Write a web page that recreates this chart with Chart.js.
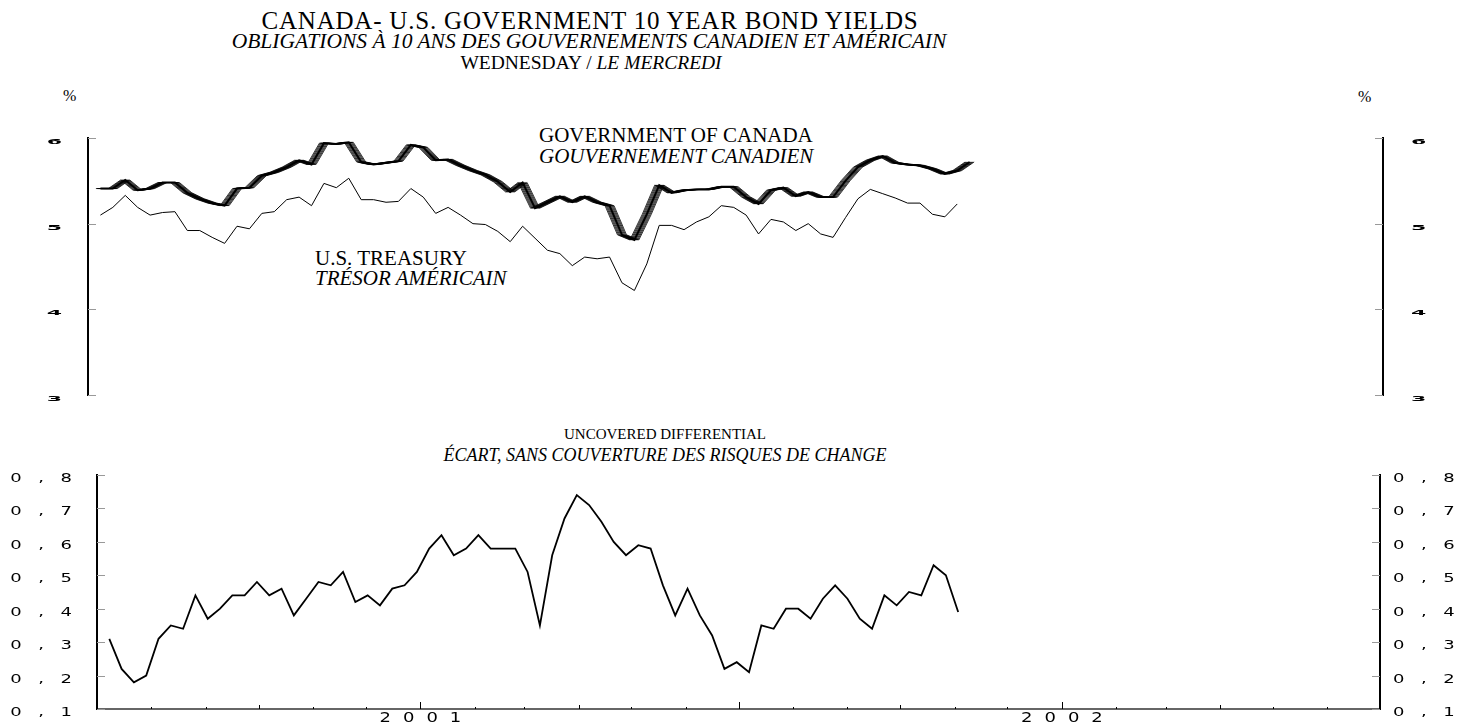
<!DOCTYPE html>
<html>
<head>
<meta charset="utf-8">
<script src="https://cdn.jsdelivr.net/npm/chart.js@4"></script>
<style>
  body { margin: 0; background: #fff; }
  #page { position: relative; width: 1481px; height: 725px; overflow: hidden; color: #000;
          font-family: "Liberation Serif", "Times New Roman", serif; }
  .t { position: absolute; white-space: nowrap; font-size: 21px; line-height: 21px; }
  .c { transform: translateX(-50%); }
  .i { font-style: italic; }
  canvas { position: absolute; left: 0; }
</style>
</head>
<body>
<div id="page">
  <div class="t c" style="left:590px;top:8px;font-size:25px;line-height:25px;letter-spacing:0.8px">CANADA- U.S. GOVERNMENT 10 YEAR BOND YIELDS</div>
  <div class="t c i" style="left:589px;top:31px;font-size:21.5px">OBLIGATIONS À 10 ANS DES GOUVERNEMENTS CANADIEN ET AMÉRICAIN</div>
  <div class="t c" style="left:591px;top:52px;font-size:19.5px">WEDNESDAY / <i>LE MERCREDI</i></div>
  <div class="t" style="left:63px;top:85px;font-size:16px">%</div>
  <div class="t" style="left:1358px;top:86px;font-size:16px">%</div>

  <div class="t" style="left:539px;top:125px">GOVERNMENT OF CANADA</div>
  <div class="t i" style="left:539px;top:146px">GOUVERNEMENT CANADIEN</div>
  <div class="t" style="left:315px;top:248px">U.S. TREASURY</div>
  <div class="t i" style="left:315px;top:268px">TRÉSOR AMÉRICAIN</div>

  <div class="t c" style="left:665px;top:426px;font-size:15px;line-height:16px">UNCOVERED DIFFERENTIAL</div>
  <div class="t c i" style="left:665px;top:446px;font-size:18px;line-height:18px">ÉCART, SANS COUVERTURE DES RISQUES DE CHANGE</div>

  <canvas id="yields" width="1481" height="297" style="top:108px"></canvas>
  <canvas id="spread" width="1481" height="270" style="top:455px"></canvas>
</div>

<script>
// weekly (Wednesday) observations, July 2000 - October 2001
const usTreasury = [5.10, 5.19, 5.33, 5.19, 5.10, 5.13, 5.14, 4.92, 4.92, 4.84,
  4.77, 4.97, 4.94, 5.12, 5.14, 5.28, 5.31, 5.21, 5.47, 5.42,
  5.53, 5.28, 5.28, 5.25, 5.26, 5.41, 5.31, 5.12, 5.19, 5.10,
  5.00, 4.99, 4.91, 4.79, 4.97, 4.83, 4.69, 4.65, 4.51, 4.61,
  4.59, 4.61, 4.31, 4.22, 4.53, 4.98, 4.98, 4.93, 5.02, 5.08,
  5.21, 5.19, 5.10, 4.88, 5.05, 5.02, 4.92, 5.00, 4.88, 4.84,
  5.07, 5.29, 5.40, 5.35, 5.30, 5.24, 5.24, 5.11, 5.08, 5.23];

const canada = [5.41, 5.41, 5.51, 5.39, 5.41, 5.48, 5.48, 5.36, 5.29, 5.24,
  5.21, 5.41, 5.42, 5.56, 5.60, 5.66, 5.74, 5.69, 5.94, 5.93,
  5.95, 5.72, 5.69, 5.71, 5.73, 5.92, 5.89, 5.74, 5.75, 5.68,
  5.62, 5.57, 5.49, 5.37, 5.48, 5.18, 5.25, 5.32, 5.25, 5.32,
  5.25, 5.21, 4.87, 4.81, 5.11, 5.45, 5.36, 5.39, 5.40, 5.40,
  5.43, 5.43, 5.31, 5.23, 5.39, 5.42, 5.32, 5.37, 5.31, 5.31,
  5.50, 5.66, 5.74, 5.79, 5.71, 5.69, 5.68, 5.64, 5.58, 5.62,
  5.72];

const differential = [0.31, 0.22, 0.18, 0.20, 0.31, 0.35, 0.34, 0.44, 0.37, 0.40,
  0.44, 0.44, 0.48, 0.44, 0.46, 0.38, 0.43, 0.48, 0.47, 0.51,
  0.42, 0.44, 0.41, 0.46, 0.47, 0.51, 0.58, 0.62, 0.56, 0.58,
  0.62, 0.58, 0.58, 0.58, 0.51, 0.35, 0.56, 0.67, 0.74, 0.71,
  0.66, 0.60, 0.56, 0.59, 0.58, 0.47, 0.38, 0.46, 0.38, 0.32,
  0.22, 0.24, 0.21, 0.35, 0.34, 0.40, 0.40, 0.37, 0.43, 0.47,
  0.43, 0.37, 0.34, 0.44, 0.41, 0.45, 0.44, 0.53, 0.50, 0.39];

const yieldTicks = [3, 4, 5, 6];
const spreadTicks = [0.1, 0.2, 0.3, 0.4, 0.5, 0.6, 0.7, 0.8];
const yearLabels = ['2001', '2002'];

// x axis runs in days from 1 July 2000 to 1 July 2002
const DAY = 86400000;
const axisStart = Date.UTC(2000, 6, 1);
const axisDays = (Date.UTC(2002, 6, 1) - axisStart) / DAY;
const firstObsDay = 7;   // first weekly point as plotted
const weekStep = 7;

const toPoints = arr => arr.map((v, i) => ({ x: firstObsDay + i * weekStep, y: v }));

// month boundaries for the tick marks on the bottom axis
const monthStarts = [];
for (let m = 0; m <= 24; m++) {
  monthStarts.push({ day: (Date.UTC(2000, 6 + m, 1) - axisStart) / DAY, month: (6 + m) % 12 });
}

// the axis numbers are wide and flat, so draw them stretched
function wideText(ctx, text, x, y, align, st) {
  ctx.save();
  ctx.font = (st.weight || 'normal') + ' ' + st.size + 'px "DejaVu Sans"';
  ctx.fillStyle = '#000';
  ctx.textBaseline = 'middle';
  ctx.textAlign = 'left';
  const w = (ctx.measureText(text).width + st.spacing * (text.length - 1)) * st.sx;
  const x0 = align === 'right' ? x - w : align === 'center' ? x - w / 2 : x;
  ctx.letterSpacing = st.spacing + 'px';
  ctx.translate(x0, y);
  ctx.scale(st.sx, st.sy);
  ctx.fillText(text, 0, 0);
  ctx.restore();
}

function axisMarks(cfg) {
  return {
    id: 'axisMarks',
    afterDraw(chart) {
      const ctx = chart.ctx, a = chart.chartArea;
      ctx.save();
      ctx.lineWidth = 1;
      ['y', 'y2'].forEach(id => {
        const s = chart.scales[id];
        const left = s.position === 'left';
        const edge = left ? a.left : a.right;
        s.ticks.forEach(t => {
          const py = Math.round(s.getPixelForValue(t.value)) + 0.5;
          ctx.strokeStyle = '#999';
          ctx.beginPath();
          ctx.moveTo(edge, py);
          ctx.lineTo(edge + (left ? cfg.tickLen : -cfg.tickLen), py);
          ctx.stroke();
          wideText(ctx, cfg.format(t.value), left ? edge - cfg.gapLeft : edge + cfg.gapRight,
                   py + cfg.labelDy, left ? 'right' : 'left', cfg.label);
        });
      });
      if (cfg.months) {
        const s = chart.scales.x;
        ctx.strokeStyle = '#000';
        monthStarts.forEach(m => {
          if (m.day <= 0 || m.day >= axisDays) return;
          const px = Math.round(s.getPixelForValue(m.day)) + 0.5;
          const len = m.month % 6 === 0 ? 7 : m.month % 3 === 0 ? 4 : 2;
          ctx.beginPath();
          ctx.moveTo(px, a.bottom);
          ctx.lineTo(px, a.bottom - len);
          ctx.stroke();
        });
        yearLabels.forEach(y => {
          const day = (Date.UTC(+y, 0, 1) - axisStart) / DAY;
          wideText(ctx, y, s.getPixelForValue(day), a.bottom + 10, 'center', cfg.yearLabel);
        });
      }
      ctx.restore();
    }
  };
}

// Canada's line is drawn as a hatched ribbon
const ribbon = {
  id: 'ribbon',
  afterDatasetsDraw(chart) {
    const pts = chart.getDatasetMeta(0).data;
    const ctx = chart.ctx;
    ctx.save();
    ctx.strokeStyle = '#000';
    ctx.lineWidth = 0.8;
    for (let dx = -4.5; dx <= 4.51; dx += 1.0) {
      ctx.beginPath();
      pts.forEach((p, i) => i ? ctx.lineTo(p.x + dx, p.y) : ctx.moveTo(p.x + dx, p.y));
      ctx.stroke();
    }
    ctx.restore();
  }
};

function yAxis(pos, width, min, max, ticks) {
  return {
    position: pos, min: min, max: max,
    afterBuildTicks: s => { s.ticks = ticks.map(v => ({ value: v })); },
    afterFit: s => { s.width = width; },
    ticks: { display: false },
    grid: { display: false },
    border: { display: true, color: '#000', width: 2 }
  };
}

const common = {
  responsive: false,
  animation: false,
  devicePixelRatio: 1,
  plugins: { legend: { display: false }, tooltip: { enabled: false } },
  elements: { point: { radius: 0 }, line: { tension: 0 } }
};

new Chart(document.getElementById('yields'), {
  type: 'line',
  data: {
    datasets: [
      { label: 'Government of Canada', data: toPoints(canada), borderColor: '#000', borderWidth: 2 },
      { label: 'U.S. Treasury', data: toPoints(usTreasury), borderColor: '#000', borderWidth: 1 }
    ]
  },
  options: Object.assign({}, common, {
    layout: { padding: { top: 30, bottom: 10 } },
    scales: {
      x: { type: 'linear', min: 0, max: axisDays, display: false },
      y: yAxis('left', 88, 3, 6, yieldTicks),
      y2: yAxis('right', 98, 3, 6, yieldTicks)
    }
  }),
  plugins: [ribbon, axisMarks({
    tickLen: 8, gapLeft: 26, gapRight: 28, labelDy: 4,
    format: v => String(v),
    label: { size: 10, spacing: 0, sx: 2.2, sy: 0.75, weight: 'bold' }
  })]
});

new Chart(document.getElementById('spread'), {
  type: 'line',
  data: {
    datasets: [
      { label: 'Uncovered differential', data: toPoints(differential), borderColor: '#000', borderWidth: 1.8 }
    ]
  },
  options: Object.assign({}, common, {
    layout: { padding: { top: 20, bottom: 0 } },
    scales: {
      x: {
        type: 'linear', min: 0, max: axisDays,
        afterFit: s => { s.height = 16; },
        ticks: { display: false },
        grid: { display: false },
        border: { display: true, color: '#666', width: 2 }
      },
      y: yAxis('left', 97, 0.1, 0.8, spreadTicks),
      y2: yAxis('right', 101, 0.1, 0.8, spreadTicks)
    }
  }),
  plugins: [axisMarks({
    tickLen: 8, gapLeft: 25, gapRight: 13, labelDy: 4,
    format: v => v.toFixed(1).replace('.', ','),
    label: { size: 12, spacing: 11, sx: 1.5, sy: 0.95 },
    months: true,
    yearLabel: { size: 12, spacing: 8, sx: 1.5, sy: 1.1 }
  })]
});
</script>
</body>
</html>
